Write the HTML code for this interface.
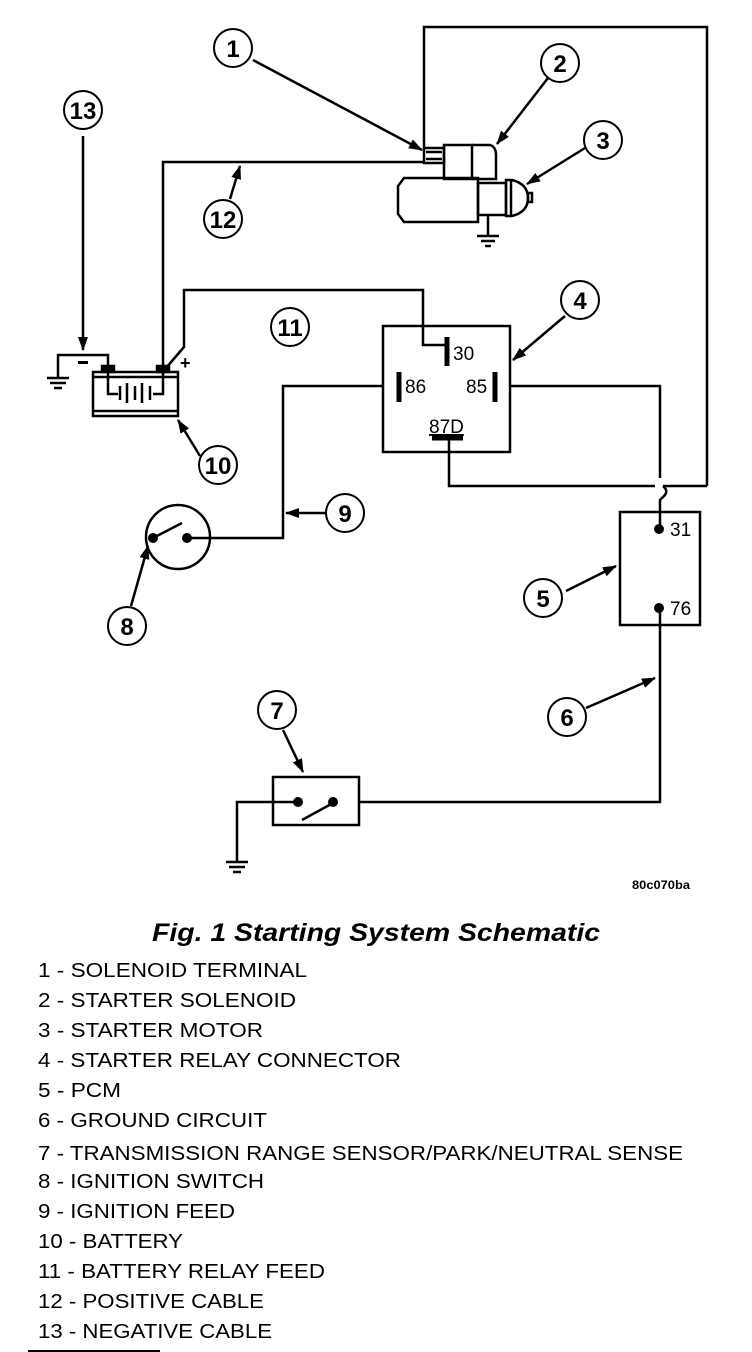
<!DOCTYPE html>
<html><head><style>
html,body{margin:0;padding:0;background:#fff;}
svg{display:block;}
text{font-family:"Liberation Sans",Arial,sans-serif;}
</style></head><body>
<svg width="752" height="1352" viewBox="0 0 752 1352" xmlns="http://www.w3.org/2000/svg">
<defs>
<marker id="ah" markerWidth="14" markerHeight="10" refX="13" refY="5" orient="auto" markerUnits="userSpaceOnUse"><path d="M0,0 L14,5 L0,10 z" fill="#000"/></marker>
</defs>
<g fill="none" stroke="#000" stroke-width="2.5">
<polyline points="424,148 424,27 707,27 707,486"/>
<polyline points="426,162 163,162 163,368"/>
<polyline points="166,368 184,347 184,290 423,290 423,345 447,345"/>
<polyline points="108,368 108,355 58,355 58,378"/>
<line x1="47" y1="378" x2="69" y2="378"/><line x1="50" y1="383" x2="66" y2="383"/><line x1="54" y1="388" x2="62" y2="388"/>
<rect x="93" y="372" width="85" height="44"/>
<line x1="93" y1="377" x2="178" y2="377"/><line x1="93" y1="411" x2="178" y2="411"/>
<rect x="102" y="366" width="12" height="6" fill="#000"/><rect x="157" y="366" width="12" height="6" fill="#000"/>
<polyline points="108,372 108,394 118,394"/><polyline points="163,372 163,394 153,394"/>
<line x1="120" y1="386" x2="120" y2="400"/><line x1="127" y1="383" x2="127" y2="403"/><line x1="135" y1="386" x2="135" y2="400"/><line x1="142" y1="383" x2="142" y2="403"/><line x1="150" y1="386" x2="150" y2="400"/>
<rect x="383" y="326" width="127" height="126"/>
<line x1="447" y1="337" x2="447" y2="366" stroke-width="5"/>
<line x1="399" y1="372" x2="399" y2="402" stroke-width="5"/>
<line x1="495" y1="372" x2="495" y2="402" stroke-width="5"/>
<line x1="432" y1="438" x2="463" y2="438" stroke-width="5"/>
<polyline points="449,438 449,486 655,486"/>
<path d="M663,486 Q669,491 664,496 L660,500 L660,529"/>
<polyline points="510,386 660,386 660,478"/>
<line x1="663" y1="486" x2="707" y2="486"/>
<polyline points="383,386 283,386 283,538 187,538"/>
<circle cx="178" cy="537" r="32"/>
<line x1="153" y1="538" x2="182" y2="523"/>
<rect x="620" y="512" width="80" height="113"/>
<polyline points="660,608 660,802 359,802"/>
<rect x="273" y="777" width="86" height="48"/>
<polyline points="298,802 237,802 237,862"/>
<line x1="302" y1="820" x2="333" y2="803"/>
<line x1="226" y1="862" x2="248" y2="862"/><line x1="229" y1="867" x2="245" y2="867"/><line x1="233" y1="872" x2="241" y2="872"/>
<rect x="424" y="148" width="20" height="15" fill="#fff"/>
<line x1="426" y1="152" x2="442" y2="152"/><line x1="426" y1="159" x2="442" y2="159"/>
<rect x="444" y="145" width="28" height="34"/>
<path d="M472,145 L490,145 Q496,147 496,155 L496,179 L472,179"/>
<path d="M404,178 L478,178 L478,222 L404,222 L398,214 L398,186 Z"/>
<rect x="478" y="183" width="28" height="32"/>
<path d="M506,180 L512,180 Q528,184 528,198 Q528,212 512,216 L506,216 Z"/>
<line x1="511" y1="181" x2="511" y2="215"/>
<rect x="528" y="193" width="4" height="9"/>
<line x1="488" y1="215" x2="488" y2="236"/>
<line x1="477" y1="236" x2="499" y2="236"/><line x1="481" y1="241" x2="495" y2="241"/><line x1="485" y1="246" x2="491" y2="246"/>
</g>
<g fill="#000">
<circle cx="153" cy="538" r="5"/><circle cx="187" cy="538" r="5"/>
<circle cx="659" cy="529" r="5"/><circle cx="659" cy="608" r="5"/>
<circle cx="298" cy="802" r="5"/><circle cx="333" cy="802" r="5"/>
<rect x="78" y="361" width="10" height="3"/>
<text x="180" y="369" font-size="18" font-weight="bold">+</text>
</g>
<g font-size="19" fill="#000">
<text x="453" y="360">30</text><text x="405" y="393">86</text><text x="466" y="393">85</text>
<text x="429" y="433" text-decoration="underline">87D</text>
<text x="670" y="536">31</text><text x="670" y="615">76</text>
</g>
<g fill="none" stroke="#000" stroke-width="2">
<circle cx="233" cy="48" r="19"/><circle cx="560" cy="63" r="19"/><circle cx="603" cy="140" r="19"/>
<circle cx="83" cy="110" r="19"/><circle cx="223" cy="219" r="19"/><circle cx="290" cy="327" r="19"/>
<circle cx="580" cy="300" r="19"/><circle cx="218" cy="465" r="19"/><circle cx="345" cy="513" r="19"/>
<circle cx="127" cy="626" r="19"/><circle cx="543" cy="598" r="19"/><circle cx="567" cy="717" r="19"/>
<circle cx="277" cy="710" r="19"/>
</g>
<g stroke="#000" stroke-width="2.5" marker-end="url(#ah)">
<line x1="253" y1="60" x2="422" y2="150"/>
<line x1="548" y1="78" x2="497" y2="144"/>
<line x1="585" y1="148" x2="527" y2="184"/>
<line x1="83" y1="136" x2="83" y2="350"/>
<line x1="230" y1="199" x2="240" y2="166"/>
<line x1="565" y1="316" x2="513" y2="360"/>
<line x1="200" y1="456" x2="178" y2="420"/>
<line x1="326" y1="513" x2="286" y2="513"/>
<line x1="131" y1="606" x2="148" y2="546"/>
<line x1="566" y1="591" x2="616" y2="566"/>
<line x1="586" y1="708" x2="655" y2="678"/>
<line x1="283" y1="730" x2="303" y2="772"/>
</g>
<g font-size="24" font-weight="bold" text-anchor="middle" fill="#000">
<text x="233" y="57">1</text><text x="560" y="72">2</text><text x="603" y="149">3</text>
<text x="83" y="119">13</text><text x="223" y="228">12</text><text x="290" y="336">11</text>
<text x="580" y="309">4</text><text x="218" y="474">10</text><text x="345" y="522">9</text>
<text x="127" y="635">8</text><text x="543" y="607">5</text><text x="567" y="726">6</text>
<text x="277" y="719">7</text>
</g>
<text x="632" y="889" font-size="12" font-weight="bold" textLength="58" lengthAdjust="spacingAndGlyphs">80c070ba</text>
<text x="152" y="941" font-size="25" font-weight="bold" font-style="italic" textLength="448" lengthAdjust="spacingAndGlyphs">Fig. 1 Starting System Schematic</text>
<g font-size="20" fill="#000">
<text x="38" y="977" textLength="269" lengthAdjust="spacingAndGlyphs">1 - SOLENOID TERMINAL</text>
<text x="38" y="1007" textLength="258" lengthAdjust="spacingAndGlyphs">2 - STARTER SOLENOID</text>
<text x="38" y="1037" textLength="225" lengthAdjust="spacingAndGlyphs">3 - STARTER MOTOR</text>
<text x="38" y="1067" textLength="363" lengthAdjust="spacingAndGlyphs">4 - STARTER RELAY CONNECTOR</text>
<text x="38" y="1097" textLength="83" lengthAdjust="spacingAndGlyphs">5 - PCM</text>
<text x="38" y="1127" textLength="229" lengthAdjust="spacingAndGlyphs">6 - GROUND CIRCUIT</text>
<text x="38" y="1160" textLength="645" lengthAdjust="spacingAndGlyphs">7 - TRANSMISSION RANGE SENSOR/PARK/NEUTRAL SENSE</text>
<text x="38" y="1188" textLength="226" lengthAdjust="spacingAndGlyphs">8 - IGNITION SWITCH</text>
<text x="38" y="1218" textLength="197" lengthAdjust="spacingAndGlyphs">9 - IGNITION FEED</text>
<text x="38" y="1248" textLength="145" lengthAdjust="spacingAndGlyphs">10 - BATTERY</text>
<text x="38" y="1278" textLength="287" lengthAdjust="spacingAndGlyphs">11 - BATTERY RELAY FEED</text>
<text x="38" y="1308" textLength="226" lengthAdjust="spacingAndGlyphs">12 - POSITIVE CABLE</text>
<text x="38" y="1338" textLength="234" lengthAdjust="spacingAndGlyphs">13 - NEGATIVE CABLE</text>
</g>
<line x1="28" y1="1351" x2="160" y2="1351" stroke="#000" stroke-width="2"/>
</svg>
</body></html>
